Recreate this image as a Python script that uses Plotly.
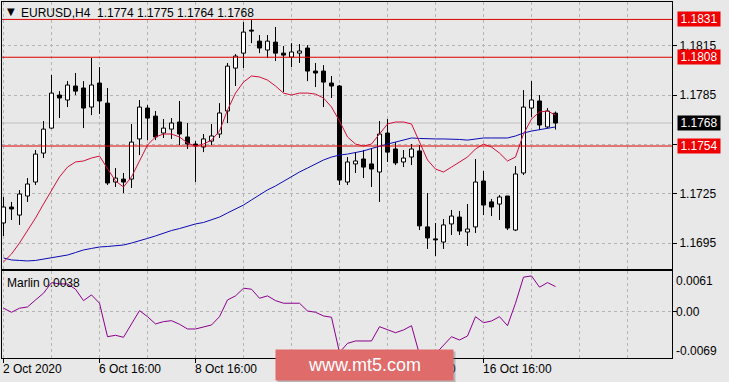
import plotly.graph_objects as go

# ---------------- data ----------------
bar_index = list(range(70))

open_ = [1.17072, 1.17169, 1.1712, 1.17236, 1.17321, 1.17497, 1.17649, 1.1785, 1.1782, 1.17905,
         1.17893, 1.17777, 1.17923, 1.17801, 1.17321, 1.17339, 1.17339, 1.17583, 1.17771, 1.17722,
         1.17619, 1.17643, 1.17686, 1.17595, 1.17552, 1.17534, 1.1757, 1.17613, 1.17753, 1.18014,
         1.18105, 1.18245, 1.18178, 1.18124, 1.18172, 1.18105, 1.18081, 1.18105, 1.18136, 1.17996,
         1.17996, 1.17923, 1.17905, 1.17321, 1.17431, 1.17461, 1.17431, 1.17382, 1.17619, 1.17522,
         1.17443, 1.17473, 1.1751, 1.17048, 1.16975, 1.16956, 1.17066, 1.17108, 1.17017, 1.17048,
         1.17327, 1.172, 1.17187, 1.17236, 1.17029, 1.17376, 1.17771, 1.17814, 1.17656, 1.1774]

high = [1.1723, 1.172, 1.17272, 1.17345, 1.17516, 1.17692, 1.17972, 1.17874, 1.17935, 1.17984,
        1.17935, 1.18075, 1.1802, 1.17893, 1.17406, 1.17376, 1.17674, 1.1782, 1.17789, 1.17753,
        1.17704, 1.1771, 1.17814, 1.1768, 1.1757, 1.17613, 1.17674, 1.17801, 1.18045, 1.18099,
        1.18294, 1.18306, 1.18215, 1.18215, 1.18264, 1.18148, 1.18166, 1.1816, 1.18154, 1.18045,
        1.18032, 1.17966, 1.17911, 1.17473, 1.17503, 1.17516, 1.17528, 1.17692, 1.17704, 1.17564,
        1.17516, 1.17552, 1.17546, 1.17254, 1.17072, 1.17096, 1.17151, 1.17145, 1.17187, 1.17461,
        1.17388, 1.17218, 1.17242, 1.17236, 1.17418, 1.1788, 1.17935, 1.1785, 1.17771, 1.1775]

low = [1.16993, 1.1709, 1.1706, 1.172, 1.17303, 1.17467, 1.17645, 1.1771, 1.17777, 1.1785,
       1.17649, 1.17728, 1.17735, 1.17303, 1.17291, 1.17254, 1.17285, 1.17485, 1.17576, 1.17576,
       1.17589, 1.17583, 1.17546, 1.17522, 1.17321, 1.17503, 1.17546, 1.17589, 1.1768, 1.17905,
       1.18014, 1.18166, 1.18105, 1.18075, 1.18057, 1.17868, 1.1802, 1.18045, 1.17935, 1.17899,
       1.17777, 1.17832, 1.17303, 1.17303, 1.17376, 1.17345, 1.17291, 1.172, 1.17443, 1.17424,
       1.17412, 1.17424, 1.17029, 1.16914, 1.16871, 1.16914, 1.16999, 1.16999, 1.16932, 1.17011,
       1.1712, 1.17114, 1.1709, 1.17029, 1.17023, 1.17364, 1.17716, 1.17637, 1.17649, 1.1764]

close = [1.17169, 1.17157, 1.17248, 1.17309, 1.17491, 1.17643, 1.17862, 1.17832, 1.17911, 1.17874,
         1.17771, 1.17911, 1.17814, 1.17315, 1.17345, 1.17321, 1.17564, 1.17777, 1.1771, 1.17595,
         1.17649, 1.1768, 1.17613, 1.17552, 1.1754, 1.17583, 1.17601, 1.17741, 1.18026, 1.18087,
         1.18233, 1.18239, 1.18136, 1.18178, 1.18105, 1.18093, 1.18112, 1.18118, 1.17996, 1.17984,
         1.17929, 1.17905, 1.17333, 1.17443, 1.17449, 1.17412, 1.174, 1.17613, 1.17503, 1.17437,
         1.17467, 1.17522, 1.17054, 1.16981, 1.16969, 1.1706, 1.17114, 1.17023, 1.17035, 1.17321,
         1.17181, 1.17169, 1.1723, 1.17041, 1.1737, 1.17777, 1.1782, 1.17668, 1.17753, 1.1768]

ma_fast = [1.16835, 1.16883, 1.1695, 1.17023, 1.17102, 1.17187, 1.17272, 1.17352, 1.17412, 1.17443,
           1.17449, 1.17467, 1.17479, 1.17406, 1.17327, 1.17291, 1.17352, 1.17449, 1.17546, 1.17595,
           1.17613, 1.17613, 1.17595, 1.17558, 1.1754, 1.17552, 1.17576, 1.17631, 1.17759, 1.17862,
           1.17929, 1.17966, 1.1796, 1.17941, 1.17905, 1.17862, 1.1785, 1.17862, 1.17862, 1.17856,
           1.17832, 1.17777, 1.17692, 1.17595, 1.17552, 1.1754, 1.17552, 1.17613, 1.17674, 1.17686,
           1.17686, 1.17674, 1.17564, 1.17455, 1.174, 1.17382, 1.17412, 1.17443, 1.17473, 1.17522,
           1.17552, 1.17534, 1.17497, 1.17449, 1.17473, 1.17613, 1.17704, 1.17747, 1.17753, 1.17728]

ma_slow = [1.16859, 1.16847, 1.16844, 1.16841, 1.16844, 1.16853, 1.16859, 1.16868, 1.16877, 1.16892,
           1.16908, 1.16917, 1.16926, 1.16929, 1.16932, 1.16938, 1.1695, 1.16962, 1.16978, 1.16993,
           1.17011, 1.17026, 1.17038, 1.17054, 1.17066, 1.17075, 1.1709, 1.17108, 1.17133, 1.17157,
           1.17181, 1.17212, 1.17242, 1.17273, 1.17297, 1.17327, 1.17352, 1.17382, 1.17406, 1.17431,
           1.17455, 1.17473, 1.17485, 1.17491, 1.175, 1.1751, 1.17525, 1.1754, 1.17552, 1.17564,
           1.17576, 1.17589, 1.17586, 1.17583, 1.17583, 1.17583, 1.17583, 1.1758, 1.17576, 1.17583,
           1.17589, 1.17589, 1.17589, 1.17589, 1.17601, 1.17619, 1.17631, 1.1764, 1.17646, 1.17656]

marlin = [0.00057, -0.00005, 0.00057, 0.00076, 0.00183, 0.00286, 0.00448, 0.00428, 0.00428, 0.00347,
          0.00173, 0.0026, 0.00133, -0.00378, -0.00356, -0.00387, -0.00183, 0.0002, -0.00072, -0.00183,
          -0.00148, -0.00133, -0.00188, -0.0026, -0.0026, -0.00225, -0.00199, -0.00072, 0.00183, 0.00245,
          0.00362, 0.00347, 0.00209, 0.00245, 0.00173, 0.00133, 0.00133, 0.00133, 0.00015, -0.00005,
          -0.00061, -0.00081, -0.0062, -0.00479, -0.00443, -0.00443, -0.00443, -0.00225, -0.00275, -0.00317,
          -0.00275, -0.0021, -0.0065, -0.0069, -0.0064, -0.00505, -0.00378, -0.00428, -0.00367, -0.00072,
          -0.00164, -0.00138, -0.00072, -0.0021, 0.00133, 0.00531, 0.0055, 0.00378, 0.00448, 0.00387]

x_tick_idx = [0, 12, 24, 36, 48, 60]
x_tick_text = ["2 Oct 2020", "6 Oct 16:00", "8 Oct 16:00", "12 Oct 16:00", "14 Oct 16:00", "16 Oct 16:00"]
price_ticks = [1.1695, 1.1725, 1.1755, 1.1785, 1.1815]
price_tick_text = ["1.1695", "1.1725", "1.1755", "1.1785", "1.1815"]
level_lines = [1.1831, 1.1808, 1.1754]
level_text = ["1.1831", "1.1808", "1.1754"]
last_price = 1.1768
last_price_text = "1.1768"
marlin_labels = [0.0061, 0.0, -0.0069]
marlin_label_text = ["0.0061", "0.00", "-0.0069"]
header_text = "EURUSD,H4  1.1774 1.1775 1.1764 1.1768"
marlin_title = "Marlin 0.0038"
watermark = "www.mt5.com"

# ---------------- styling ----------------
BG = "#E8E8E8"
GRID = "#B4B4B4"
FONT = "Liberation Sans, Arial, sans-serif"
W, H = 729, 382
ML, MR, MT, MB = 2, 57, 2, 24
PW, PH = W - ML - MR, H - MT - MB
main_bottom_px, sub_top_px = 269, 271


def py(ypx):
    return (H - MB - ypx) / PH


def px(xpx):
    return (xpx - ML) / PW


fig = go.Figure()

# candle bodies
body_base = [min(o, c) for o, c in zip(open_, close)]
body_h = [max(abs(c - o), 0.00004) for o, c in zip(open_, close)]
body_col = ["white" if c > o else "black" for o, c in zip(open_, close)]
fig.add_trace(go.Bar(x=bar_index, y=body_h, base=body_base, width=0.5,
                     marker=dict(color=body_col, line=dict(color="black", width=1)),
                     xaxis="x", yaxis="y", hoverinfo="skip"))

# wicks
wx, wy = [], []
for i, o, h, l, c in zip(bar_index, open_, high, low, close):
    top, bot = max(o, c), min(o, c)
    wx += [i, i, None, i, i, None]
    wy += [top, h, None, l, bot, None]
fig.add_trace(go.Scatter(x=wx, y=wy, mode="lines", line=dict(color="black", width=1),
                         xaxis="x", yaxis="y", hoverinfo="skip"))

# moving averages
fig.add_trace(go.Scatter(x=bar_index, y=ma_slow, mode="lines",
                         line=dict(color="#0A0AB4", width=1), xaxis="x", yaxis="y"))
fig.add_trace(go.Scatter(x=bar_index, y=ma_fast, mode="lines",
                         line=dict(color="#D0103A", width=1), xaxis="x", yaxis="y"))

# Marlin oscillator
fig.add_trace(go.Scatter(x=bar_index, y=marlin, mode="lines",
                         line=dict(color="#8B008B", width=1), xaxis="x2", yaxis="y2"))

xr = [(ML - 3.5) / 8, (ML + PW - 3.5) / 8]
xcommon = dict(range=xr, showline=True, mirror=True, linecolor="black", linewidth=1,
               tickmode="array", tickvals=x_tick_idx, showgrid=True, gridcolor=GRID,
               griddash="3px,3px", gridwidth=1, zeroline=False, automargin=False,
               minor=dict(tick0=0, dtick=6, showgrid=True, gridcolor=GRID, griddash="3px,3px",
                          gridwidth=1))

fig.update_layout(
    width=W, height=H,
    margin=dict(l=ML, r=MR, t=MT, b=MB),
    paper_bgcolor=BG, plot_bgcolor=BG,
    showlegend=False, hovermode=False, barmode="overlay",
    font=dict(family=FONT, size=12, color="black"),
    xaxis=dict(**xcommon, anchor="y", showticklabels=False, ticks=""),
    xaxis2=dict(**xcommon, anchor="y2", matches="x", showticklabels=False,
                ticks="outside", ticklen=4, tickcolor="black"),
    yaxis=dict(domain=[py(main_bottom_px), 1], range=[1.16792, 1.18416], side="right",
               showline=True, mirror=True, linecolor="black", linewidth=1,
               tickmode="array", tickvals=price_ticks, ticktext=price_tick_text,
               ticks="outside", ticklen=4, tickcolor="black",
               tickfont=dict(family=FONT, size=12, color="black"),
               showgrid=True, gridcolor=GRID, griddash="3px,3px", zeroline=False,
               automargin=False),
    yaxis2=dict(domain=[0, py(sub_top_px)], range=[-0.00703, 0.00625], side="right",
                showline=True, mirror=True, linecolor="black", linewidth=1,
                tickmode="array", tickvals=[0.0], showticklabels=False,
                ticks="outside", ticklen=4, tickcolor="black",
                showgrid=True, gridcolor=GRID, griddash="3px,3px", zeroline=False,
                automargin=False),
)

shapes = []
# bid line
shapes.append(dict(type="line", xref="x domain", x0=0, x1=1, yref="y", y0=last_price,
                   y1=last_price, line=dict(color="#C0C0C0", width=1), layer="below"))
for lv in level_lines:
    shapes.append(dict(type="line", xref="x domain", x0=0, x1=1, yref="y", y0=lv, y1=lv,
                       line=dict(color="#E00000", width=1), layer="above"))
fig.update_layout(shapes=shapes)

ann = []
# right-side level labels
for lv, t in zip(level_lines, level_text):
    ann.append(dict(xref="paper", x=px(677), xanchor="left", yref="y", y=lv, yanchor="middle",
                    text=t, showarrow=False, bgcolor="#F00000", width=42, height=14,
                    borderpad=0, font=dict(family=FONT, size=12, color="white")))
ann.append(dict(xref="paper", x=px(677), xanchor="left", yref="y", y=last_price,
                yanchor="middle", text=last_price_text, showarrow=False, bgcolor="black",
                width=42, height=14, borderpad=0,
                font=dict(family=FONT, size=12, color="white")))
# oscillator scale labels
shifts = [-9, 0, 6]
for v, t, s in zip(marlin_labels, marlin_label_text, shifts):
    ann.append(dict(xref="paper", x=px(675), xanchor="left", yref="y2", y=v, yanchor="middle",
                    yshift=s, text=t, showarrow=False, borderpad=0,
                    font=dict(family=FONT, size=12, color="black")))
# x labels
for i, t in zip(x_tick_idx, x_tick_text):
    ann.append(dict(xref="x", x=i, xanchor="left", xshift=-2, yref="paper", y=py(369),
                    yanchor="middle", text=t, showarrow=False, borderpad=0,
                    font=dict(family=FONT, size=12, color="black")))
# header
ann.append(dict(xref="paper", x=px(6), xanchor="left", yref="paper", y=py(12),
                yanchor="middle", text="\u25BC", showarrow=False, borderpad=0,
                font=dict(family="DejaVu Sans", size=10, color="black")))
ann.append(dict(xref="paper", x=px(20), xanchor="left", yref="paper", y=py(13),
                yanchor="middle", text=header_text, showarrow=False, borderpad=0,
                font=dict(family=FONT, size=12, color="black")))
ann.append(dict(xref="paper", x=px(6), xanchor="left", yref="paper", y=py(283),
                yanchor="middle", text=marlin_title, showarrow=False, borderpad=0,
                font=dict(family=FONT, size=12, color="black")))
# watermark
ann.append(dict(xref="paper", x=px(366.5), xanchor="center", yref="paper", y=py(367),
                yanchor="middle", text="", showarrow=False, bgcolor="rgba(90,90,90,0.35)",
                width=177, height=30, borderpad=0))
ann.append(dict(xref="paper", x=px(364.5), xanchor="center", yref="paper", y=py(365),
                yanchor="middle", text=watermark, showarrow=False, bgcolor="#E06B6B",
                width=177, height=30, borderpad=0,
                font=dict(family=FONT, size=18, color="white")))
fig.update_layout(annotations=ann)

fig.write_html("out.html",
               config={"displayModeBar": False, "staticPlot": True},
               post_script="document.body.style.margin='0';document.body.style.padding='0';"
                           "document.body.style.overflow='hidden';")
